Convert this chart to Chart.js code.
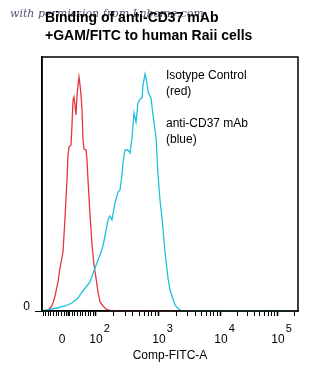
<!DOCTYPE html>
<html>
<head>
<meta charset="utf-8">
<script src="https://cdn.jsdelivr.net/npm/chart.js@4"></script>
<style>body{margin:0;background:#fff}</style>
</head>
<body>
<canvas id="chart" width="334" height="373"></canvas>
<script>
// channel positions (0-256) and event counts
const redX  = [0,3,6,9,11,13,16,18,21,23,25,26,27,29,30,31,32,33,34,35,36,37,38,39,40,41,42,44,45,46,48,50,52,54,56,58,61,64,68,78,256]
const redY  = [0,0.5,1,4,8,15,29,43,59,93,131,156,164,166,186,211,214,206,196,216,226,234,226,216,201,171,162,161,151,131,96,66,46,33,19,9,5,2,0.5,0,0]
const blueX = [0,8,15,23,30,36,40,44,48,53,58,61,63,66,68,70,71,73,76,78,80,81,83,86,88,90,92,94,96,98,100,101,103,105,106,109,111,114,116,118,120,123,126,128,130,133,136,140,256]
const blueY = [0,1.5,3,5,8,13,19,24,29,43,56,65,75,91,95,91,97,108,119,121,136,149,161,161,158,173,198,189,208,212,213,226,237,228,219,213,196,174,136,111,93,59,33,21,15,6,2.5,0,0]

// biexponential axis: where each major label sits, in channel units
const tickPos  = [26, 53, 116, 178, 235]
const tickBase = ['0', '10', '10', '10', '10']
const tickExp  = ['', '2', '3', '4', '5']
const lastDecade = 57

const titleLines = ['Binding of anti-CD37 mAb', '+GAM/FITC to human Raii cells']
const legendLines = ['Isotype Control', '(red)', '', 'anti-CD37 mAb', '(blue)']

const RED = 'rgb(232,52,62)'
const BLUE = 'rgb(30,192,222)'
const FONT = '"Liberation Sans", Arial, sans-serif'

// minor ticks: linear part around zero, then log spaced inside each decade
let minorTicks = []
for (let v = 1; v < 52; v += 2.65) {
    if (Math.abs(v - tickPos[0]) > 1) minorTicks.push(v)
}
for (let d = 1; d < tickPos.length; d++) {
    const size = d < tickPos.length - 1 ? tickPos[d + 1] - tickPos[d] : lastDecade
    for (let k = 2; k <= 9; k++) {
        const v = tickPos[d] + size * Math.log10(k)
        if (v <= 256) minorTicks.push(v)
    }
}
const allTicks = tickPos.concat(minorTicks).sort((a, b) => a - b)

function toPoints(xs, ys) {
    return xs.map((x, i) => ({x: x, y: ys[i]}))
}

const decorations = {
    id: 'decorations',
    afterDraw(chart) {
        const ctx = chart.ctx
        const area = chart.chartArea
        const xScale = chart.scales.x
        ctx.save()

        // frame around the plot
        ctx.strokeStyle = '#000'
        ctx.lineWidth = 1.5
        ctx.strokeRect(area.left, area.top, area.right - area.left, area.bottom - area.top)

        // watermark behind the title
        ctx.font = 'italic 11px "DejaVu Serif", serif'
        ctx.fillStyle = 'rgba(40,40,80,0.8)'
        ctx.textAlign = 'left'
        ctx.textBaseline = 'alphabetic'
        ctx.fillText('with permission from Labome.com', 10, 17)

        // title
        ctx.font = 'bold 14px ' + FONT
        ctx.fillStyle = '#000'
        ctx.fillText(titleLines[0], 45, 22)
        ctx.fillText(titleLines[1], 45, 40)

        // legend notes
        ctx.font = '12px ' + FONT
        legendLines.forEach((t, i) => {
            if (t) ctx.fillText(t, 166, 79 + i * 16)
        })

        // x tick labels with raised exponents
        tickPos.forEach((v, i) => {
            let x = xScale.getPixelForValue(v)
            if (i === 0) x -= 7
            ctx.font = '12px ' + FONT
            ctx.textAlign = 'center'
            ctx.fillText(tickBase[i], x + 1, 343)
            if (tickExp[i]) {
                const w = ctx.measureText(tickBase[i]).width
                ctx.font = '11px ' + FONT
                ctx.textAlign = 'left'
                ctx.fillText(tickExp[i], x + 1 + w / 2 + 1, 332)
            }
        })
        ctx.restore()
    }
}

new Chart(document.getElementById('chart'), {
    type: 'line',
    data: {
        datasets: [{
            label: 'anti-CD37 mAb',
            data: toPoints(blueX, blueY),
            borderColor: BLUE,
            borderWidth: 1.3,
            pointRadius: 0,
            tension: 0
        }, {
            label: 'Isotype Control',
            data: toPoints(redX, redY),
            borderColor: RED,
            borderWidth: 1.3,
            pointRadius: 0,
            tension: 0
        }]
    },
    options: {
        responsive: false,
        animation: false,
        layout: {padding: {top: 57, right: 36, left: 0, bottom: 0}},
        plugins: {legend: {display: false}, tooltip: {enabled: false}},
        scales: {
            x: {
                type: 'linear',
                min: 0,
                max: 256,
                afterBuildTicks: scale => { scale.ticks = allTicks.map(v => ({value: v})) },
                afterFit: scale => { scale.height = 62 },
                ticks: {autoSkip: false, maxRotation: 0, callback: () => ''},
                grid: {
                    display: true,
                    drawOnChartArea: false,
                    drawTicks: true,
                    tickLength: 5,
                    tickColor: '#000',
                    tickWidth: ctx => tickPos.includes(ctx.tick && ctx.tick.value) ? 1.6 : 1
                },
                border: {display: true, color: '#000', width: 1.5},
                title: {
                    display: true,
                    text: 'Comp-FITC-A',
                    color: '#000',
                    font: {family: FONT, size: 12},
                    padding: {top: 0, bottom: 10}
                }
            },
            y: {
                min: 0,
                max: 254,
                afterBuildTicks: scale => { scale.ticks = [{value: 0}] },
                afterFit: scale => { scale.width = 42 },
                ticks: {
                    color: '#000',
                    padding: 5,
                    labelOffset: -4,
                    font: {family: FONT, size: 12}
                },
                grid: {
                    display: true,
                    drawOnChartArea: false,
                    drawTicks: true,
                    tickLength: 7,
                    tickColor: '#000'
                },
                border: {display: true, color: '#000', width: 1.5}
            }
        }
    },
    plugins: [decorations]
})
</script>
</body>
</html>
